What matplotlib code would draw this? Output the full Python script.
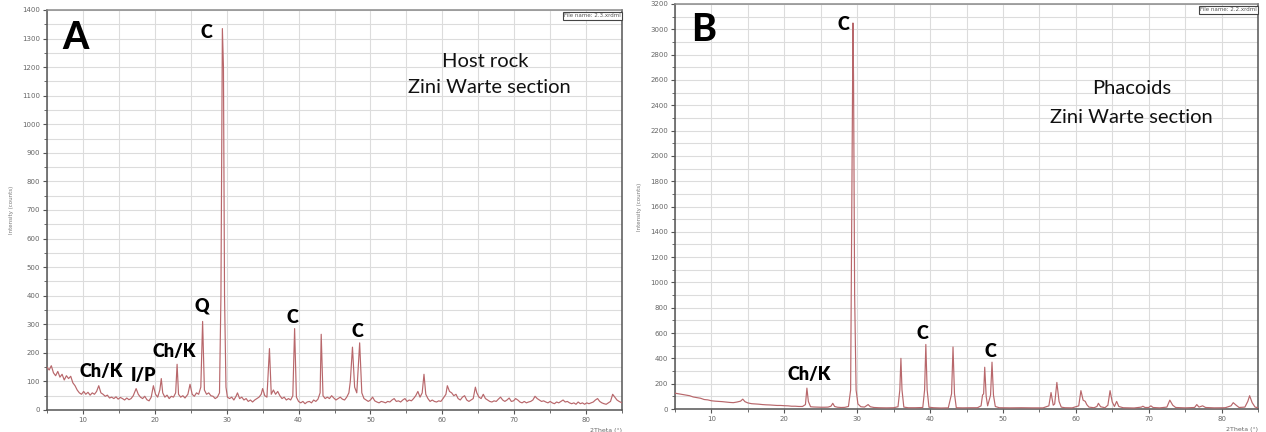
import matplotlib
matplotlib.use("Agg")
import matplotlib.pyplot as plt
from matplotlib.ticker import MultipleLocator

# ---------------- data ----------------
two_theta_a = [5.0, 5.3, 5.6, 5.9, 6.2, 6.5, 6.8, 7.1, 7.4, 7.7, 8.0, 8.3, 8.6, 8.9, 9.2, 9.5, 9.8,
               10.1, 10.4, 10.7, 11.0, 11.3, 11.6, 11.9, 12.2, 12.5, 12.8, 13.1, 13.4, 13.7, 14.0,
               14.3, 14.6, 14.9, 15.2, 15.5, 15.8, 16.1, 16.4, 16.7, 17.0, 17.4, 17.7, 18.0, 18.3,
               18.6, 18.9, 19.2, 19.5, 19.8, 20.1, 20.4, 20.7, 20.9, 21.1, 21.4, 21.7, 22.0, 22.3,
               22.6, 22.9, 23.1, 23.3, 23.6, 23.9, 24.2, 24.6, 24.9, 25.2, 25.5, 25.8, 26.1, 26.4,
               26.65, 26.9, 27.2, 27.5, 27.8, 28.1, 28.4, 28.7, 29.0, 29.2, 29.4, 29.55, 29.7, 29.9,
               30.1, 30.4, 30.7, 31.0, 31.3, 31.5, 31.8, 32.1, 32.4, 32.7, 33.0, 33.3, 33.6, 33.9,
               34.2, 34.5, 34.8, 35.0, 35.3, 35.6, 35.95, 36.2, 36.5, 36.8, 37.1, 37.4, 37.7, 38.0,
               38.3, 38.6, 38.9, 39.2, 39.45, 39.7, 40.0, 40.3, 40.6, 40.9, 41.2, 41.5, 41.8, 42.1,
               42.4, 42.7, 43.0, 43.15, 43.4, 43.7, 44.0, 44.3, 44.6, 44.9, 45.2, 45.5, 45.8, 46.1,
               46.4, 46.7, 47.0, 47.2, 47.5, 47.8, 48.1, 48.5, 48.8, 49.1, 49.4, 49.7, 50.0, 50.3,
               50.6, 50.9, 51.2, 51.5, 51.8, 52.1, 52.4, 52.7, 53.0, 53.3, 53.6, 53.9, 54.2, 54.5,
               54.8, 55.1, 55.4, 55.7, 56.0, 56.3, 56.6, 56.9, 57.2, 57.45, 57.7, 58.0, 58.3, 58.6,
               58.9, 59.2, 59.5, 59.8, 60.1, 60.5, 60.7, 61.0, 61.3, 61.6, 61.9, 62.2, 62.5, 62.8,
               63.1, 63.4, 63.7, 64.0, 64.3, 64.6, 64.8, 65.1, 65.4, 65.7, 66.0, 66.3, 66.6, 66.9,
               67.2, 67.5, 67.8, 68.1, 68.4, 68.7, 69.0, 69.3, 69.6, 69.9, 70.2, 70.5, 70.8, 71.1,
               71.4, 71.7, 72.0, 72.3, 72.6, 72.9, 73.2, 73.5, 73.8, 74.1, 74.4, 74.7, 75.0, 75.3,
               75.6, 75.9, 76.2, 76.5, 76.8, 77.1, 77.4, 77.7, 78.0, 78.3, 78.6, 78.9, 79.2, 79.5,
               79.8, 80.1, 80.4, 80.7, 81.0, 81.3, 81.6, 81.9, 82.2, 82.5, 82.8, 83.1, 83.4, 83.7,
               84.0, 84.3, 84.6, 85.0]
counts_a = [150, 140, 155, 130, 120, 135, 115, 125, 105, 120, 110, 118, 95, 85, 70, 60, 55,
            65, 55, 62, 52, 60, 55, 65, 85, 60, 55, 48, 52, 42, 45,
            40, 46, 38, 44, 40, 35, 42, 36, 40, 50, 75, 55, 45, 40,
            48, 36, 32, 45, 85, 55, 45, 70, 110, 60, 45, 52, 40, 48,
            45, 60, 160, 55, 45, 50, 42, 55, 90, 55, 48, 60, 55, 80,
            310, 70, 55, 60, 50, 48, 40, 45, 60, 400, 1335, 1200, 400, 80,
            45, 40, 45, 35, 48, 60, 40, 45, 35, 40, 30, 35, 28, 35,
            40, 45, 55, 75, 50, 45, 215, 55, 70, 55, 65, 50, 40, 45,
            35, 40, 35, 50, 285, 45, 30, 25, 30, 22, 28, 30, 25, 35,
            30, 38, 60, 265, 50, 40, 45, 40, 50, 42, 35, 40, 45, 38,
            35, 45, 60, 100, 220, 80, 60, 235, 60, 40, 35, 30, 35, 45,
            32, 28, 25, 30, 28, 25, 30, 28, 35, 40, 30, 32, 28, 35,
            40, 30, 35, 32, 40, 50, 65, 45, 60, 125, 55, 40, 30, 35,
            30, 28, 32, 30, 40, 55, 85, 65, 60, 50, 55, 40, 35, 45,
            50, 35, 30, 35, 40, 80, 60, 45, 40, 55, 40, 35, 30, 28,
            32, 30, 38, 45, 35, 30, 35, 42, 30, 32, 40, 35, 28, 25,
            30, 25, 28, 30, 35, 48, 40, 35, 30, 32, 28, 25, 30, 25,
            22, 28, 25, 30, 35, 28, 30, 25, 22, 25, 20, 28, 22, 25,
            20, 25, 22, 25, 28, 35, 40, 30, 25, 22, 20, 25, 30, 55,
            45, 35, 30, 25]

two_theta_b = [5.0, 5.5, 6.0, 6.5, 7.0, 7.5, 8.0, 8.5, 9.0, 9.5, 10.0, 10.5, 11.0, 11.5, 12.0,
               12.5, 13.0, 13.5, 14.0, 14.3, 14.6, 15.0, 15.5, 16.0, 16.5, 17.0, 17.5, 18.0, 18.5,
               19.0, 19.5, 20.0, 20.5, 21.0, 21.5, 22.0, 22.5, 22.9, 23.1, 23.3, 23.6, 24.0, 24.5,
               25.0, 25.5, 26.0, 26.4, 26.65, 26.9, 27.3, 27.8, 28.3, 28.8, 29.1, 29.3, 29.42, 29.5,
               29.65, 29.85, 30.1, 30.5, 31.0, 31.5, 31.8, 32.3, 33.0, 34.0, 35.0, 35.6, 35.85, 36.0,
               36.15, 36.4, 37.0, 38.0, 39.0, 39.25, 39.42, 39.6, 39.85, 40.5, 41.5, 42.5, 42.95,
               43.15, 43.35, 43.6, 44.5, 45.5, 46.5, 47.0, 47.2, 47.35, 47.5, 47.7, 47.9, 48.3, 48.5,
               48.7, 48.95, 49.5, 51.0, 52.5, 54.0, 55.5, 56.3, 56.6, 56.9, 57.1, 57.4, 57.7, 58.0,
               58.5, 59.5, 60.4, 60.7, 61.0, 61.3, 61.5, 61.8, 62.5, 62.9, 63.1, 63.4, 64.0, 64.4,
               64.7, 65.0, 65.3, 65.6, 65.9, 66.5, 68.0, 69.0, 69.2, 69.5, 70.0, 70.3, 70.6, 71.5,
               72.5, 72.9, 73.3, 73.7, 75.0, 76.3, 76.6, 76.9, 77.4, 77.8, 79.0, 80.5, 81.3, 81.6,
               82.0, 82.4, 83.2, 83.6, 83.85, 84.2, 84.6, 85.0]
counts_b = [125, 120, 115, 110, 105, 95, 90, 85, 75, 72, 65, 62, 60, 58, 55,
            52, 50, 55, 62, 78, 58, 48, 42, 40, 38, 35, 33, 32, 30,
            28, 28, 26, 25, 22, 22, 20, 20, 35, 165, 60, 18, 16, 15,
            14, 14, 15, 22, 45, 20, 14, 12, 13, 20, 150, 2000, 3050, 2620,
            900, 150, 40, 18, 15, 35, 18, 12, 10, 9, 10, 18, 150, 400,
            150, 15, 10, 10, 12, 150, 510, 150, 14, 10, 8, 9, 120,
            490, 120, 10, 9, 10, 10, 25, 110, 120, 330, 100, 25, 110, 370,
            110, 20, 10, 9, 10, 9, 9, 25, 130, 30, 40, 210, 60, 15,
            10, 9, 25, 145, 70, 60, 35, 15, 10, 20, 45, 18, 10, 30,
            145, 55, 20, 60, 20, 10, 8, 15, 22, 12, 12, 25, 12, 9,
            15, 70, 30, 12, 9, 12, 35, 15, 25, 12, 9, 10, 25, 50,
            30, 12, 15, 60, 105, 50, 15, 10]

# peak labels: (text, 2theta, intensity)
labels_a = [("C", 27.2, 1320), ("Q", 26.6, 364), ("Ch/K", 12.5, 133), ("I/P", 18.4, 122),
            ("Ch/K", 22.7, 206), ("C", 39.2, 325), ("C", 48.2, 276)]
labels_b = [("C", 28.1, 3041), ("Ch/K", 23.4, 276), ("C", 38.9, 600), ("C", 48.3, 458)]

# sample descriptions
title_a = ["Host rock", "Zini Warte section"]
title_b = ["Phacoids", "Zini Warte section"]

# ---------------- figure ----------------
W, H = 1266, 432
fig = plt.figure(figsize=(W / 100, H / 100), dpi=100)
fig.patch.set_facecolor("white")

line_color = "#b8676b"
grid_color = "#dcdcdc"
tick_color = "#555555"
font_main = ["Lato", "DejaVu Sans"]


def make_panel(rect, x, y, ymax, ymajor, yminor, labels, letter, letter_pos,
               title_lines, title_pos, fname):
    ax = fig.add_axes(rect)
    ax.plot(x, y, color=line_color, lw=0.85, zorder=3)
    ax.set_xlim(5, 85)
    ax.set_ylim(0, ymax)
    ax.xaxis.set_major_locator(MultipleLocator(10))
    ax.xaxis.set_minor_locator(MultipleLocator(5))
    ax.yaxis.set_major_locator(MultipleLocator(ymajor))
    ax.yaxis.set_minor_locator(MultipleLocator(yminor))
    ax.set_xticks([t for t in range(10, 85, 10)])
    ax.grid(True, which="both", color=grid_color, lw=0.8, zorder=0)
    ax.set_axisbelow(True)
    ax.tick_params(axis="both", which="major", labelsize=5, colors=tick_color,
                   length=3, width=0.8, pad=2)
    ax.tick_params(axis="both", which="minor", length=2, width=0.6, colors=tick_color)
    for t in ax.get_xticklabels() + ax.get_yticklabels():
        t.set_color("#666666")
    for s in ["left", "bottom", "right"]:
        ax.spines[s].set_color("#555555")
        ax.spines[s].set_linewidth(1.1)
    ax.spines["top"].set_color("#8a8a8a")
    ax.spines["top"].set_linewidth(1.1)
    ax.set_ylabel("Intensity (counts)", fontsize=4, color="#777777", labelpad=6)
    ax.text(1.0, -0.045, "2Theta (°)", transform=ax.transAxes, ha="right", va="top",
            fontsize=4.5, color="#666666")
    ax.text(0.998, 0.992, fname, transform=ax.transAxes, ha="right", va="top",
            fontsize=4, color="#555555",
            bbox=dict(boxstyle="square,pad=0.25", fc="white", ec="#444444", lw=0.8))
    for txt, lx, ly in labels:
        ax.text(lx, ly, txt, ha="center", va="center", fontsize=13,
                fontweight="heavy", family=font_main, color="black", zorder=4)
    ax.text(letter_pos[0], letter_pos[1], letter, transform=ax.transAxes, ha="left",
            va="center", fontsize=27, fontweight="black", family=font_main, color="black")
    for line, (tx, ty) in zip(title_lines, title_pos):
        ax.text(tx, ty, line, transform=ax.transAxes, ha="center", va="center",
                fontsize=14.5, family=font_main, color="#111111")
    return ax


make_panel([47 / W, 1 - 410 / H, (622 - 47) / W, 400 / H],
           two_theta_a, counts_a, 1400, 100, 50, labels_a, "A", (0.027, 0.93),
           title_a, [(0.762, 0.872), (0.77, 0.806)], "File name: 2.3.xrdml")

make_panel([675 / W, 1 - 409 / H, (1258 - 675) / W, 405 / H],
           two_theta_b, counts_b, 3200, 200, 100, labels_b, "B", (0.027, 0.937),
           title_b, [(0.784, 0.792), (0.782, 0.72)], "File name: 2.2.xrdml")

fig.savefig("out.png", dpi=100, facecolor="white")
